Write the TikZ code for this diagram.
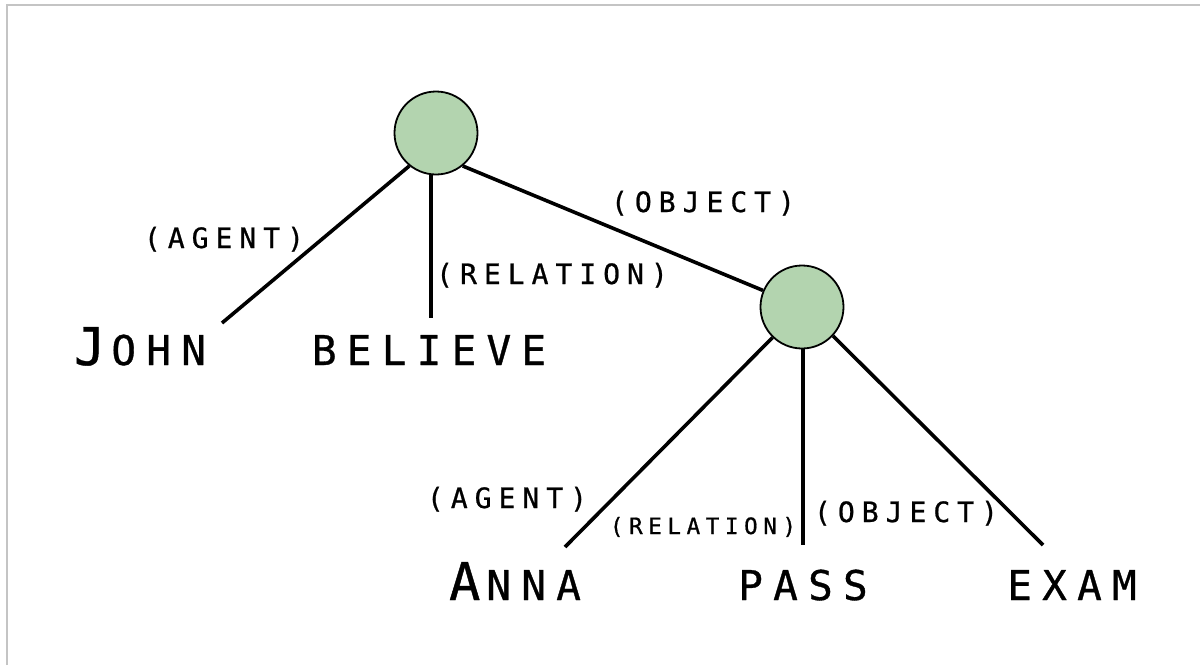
\documentclass[tikz,border=0pt]{standalone}
\usepackage{fontspec}
\newfontfamily\lblfont[LetterSpace=25,FakeBold=0.8]{DejaVu Sans Mono}
\definecolor{nodegreen}{RGB}{179,212,175}
\definecolor{framegray}{RGB}{196,196,196}
\newcommand{\initialcap}[1]{{\fontsize{52}{52}\selectfont #1}\kern6pt}
\begin{document}
\begin{tikzpicture}[x=1pt,y=-1pt,
  concept/.style={circle,draw=black,line width=1.8pt,fill=nodegreen,minimum size=83pt,inner sep=0pt},
  link/.style={line width=3.6pt},
  word/.style={anchor=base,inner sep=0pt,font=\lblfont\fontsize{41}{41}\selectfont},
  role/.style={anchor=base,inner sep=0pt,font=\lblfont\fontsize{28}{28}\selectfont},
  rolesmall/.style={anchor=base,inner sep=0pt,font=\lblfont\fontsize{22.5}{22.5}\selectfont}
]
\useasboundingbox (0,0) rectangle (1200,665);
\fill[white] (0,0) rectangle (1200,665);
\draw[framegray,line width=1.5pt] (7,665) -- (7,5) -- (1200,5);

% concept nodes
\node[concept] (c1) at (436,133) {};
\node[concept] (c2) at (802,307) {};

% free ends of the branches
\coordinate (eJohn) at (222,323);
\coordinate (eBel) at (431,318);
\coordinate (eAnna) at (565,547);
\coordinate (ePass) at (803,545);
\coordinate (eExam) at (1043,545);

\draw[link] (c1.-129) -- (eJohn);
\draw[link] (c1.south -| eBel) -- (eBel);
\draw[link] (c1.-51) -- (c2.157);
\draw[link] (c2.-134) -- (eAnna);
\draw[link] (c2.south -| ePass) -- (ePass);
\draw[link] (c2.-43) -- (eExam);

% words
\node[word] (john) at (140,365) {\initialcap{J}OHN};
\node[word] (believe) at (429,365) {BELIEVE};
\node[word] (anna) at (515,600) {\initialcap{A}NNA};
\node[word] (pass) at (803,600) {PASS};
\node[word] (exam) at (1072,600) {EXAM};

% role labels
\node[role] (r1) at (224,248) {(AGENT)};
\node[role] (r2) at (552,284) {(RELATION)};
\node[role] (r3) at (703,212) {(OBJECT)};
\node[role] (r4) at (507,508) {(AGENT)};
\node[rolesmall] (r5) at (703,534) {(RELATION)};
\node[role] (r6) at (906,522) {(OBJECT)};
\end{tikzpicture}
\end{document}
